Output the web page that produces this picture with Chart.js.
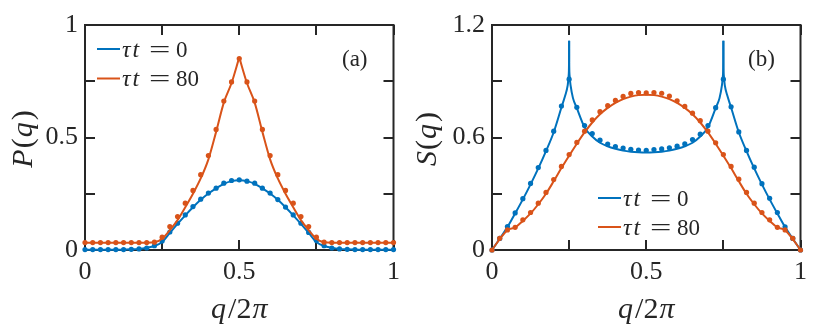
<!DOCTYPE html>
<html>
<head>
<meta charset="utf-8">
<script src="https://cdn.jsdelivr.net/npm/chart.js@4.4.1/dist/chart.umd.min.js"></script>
<style>
  html, body { margin: 0; padding: 0; background: #fff; }
  #wrap { position: relative; width: 814px; height: 336px; }
  .panel { position: absolute; top: 0; width: 407px; height: 336px; }
</style>
</head>
<body>
<div id="wrap">
  <div class="panel" style="left:0"><canvas id="chartP" width="407" height="336"></canvas></div>
  <div class="panel" style="left:407px"><canvas id="chartS" width="407" height="336"></canvas></div>
</div>
<script>
// q/2pi of the finite-size points (dots)
const qDots = [0, 0.025, 0.05, 0.075, 0.1, 0.125, 0.15, 0.175, 0.2, 0.225, 0.25, 0.275, 0.3, 0.325, 0.35, 0.375, 0.4, 0.425, 0.45, 0.475, 0.5,
               0.525, 0.55, 0.575, 0.6, 0.625, 0.65, 0.675, 0.7, 0.725, 0.75, 0.775, 0.8, 0.825, 0.85, 0.875, 0.9, 0.925, 0.95, 0.975, 1];

// (a) P(q)
const pDots0  = [0.002, 0.002, 0.002, 0.002, 0.002, 0.002, 0.003, 0.005, 0.009, 0.019, 0.04, 0.08, 0.119, 0.156, 0.193, 0.226, 0.253, 0.275, 0.297, 0.309, 0.312,
                 0.306, 0.297, 0.275, 0.253, 0.224, 0.191, 0.156, 0.119, 0.078, 0.042, 0.019, 0.009, 0.005, 0.003, 0.002, 0.002, 0.002, 0.002, 0.002, 0.002];
const pLine0  = [0.001, 0.001, 0.001, 0.001, 0.001, 0.002, 0.003, 0.005, 0.01, 0.018, 0.036, 0.076, 0.116, 0.154, 0.19, 0.223, 0.251, 0.274, 0.294, 0.306, 0.31,
                 0.306, 0.294, 0.274, 0.251, 0.223, 0.19, 0.154, 0.116, 0.076, 0.036, 0.018, 0.01, 0.005, 0.003, 0.002, 0.001, 0.001, 0.001, 0.001, 0.001];
const pDots80 = [0.033, 0.033, 0.033, 0.033, 0.033, 0.033, 0.033, 0.033, 0.033, 0.035, 0.057, 0.104, 0.149, 0.208, 0.265, 0.335, 0.42, 0.536, 0.662, 0.747, 0.851,
                 0.747, 0.662, 0.536, 0.42, 0.335, 0.265, 0.208, 0.149, 0.104, 0.057, 0.035, 0.033, 0.033, 0.033, 0.033, 0.033, 0.033, 0.033, 0.033, 0.033];
const pLine80 = [0.032, 0.032, 0.032, 0.032, 0.032, 0.032, 0.032, 0.032, 0.032, 0.034, 0.05, 0.088, 0.133, 0.19, 0.25, 0.318, 0.403, 0.525, 0.655, 0.742, 0.856,
                 0.742, 0.655, 0.525, 0.403, 0.318, 0.25, 0.19, 0.133, 0.088, 0.05, 0.034, 0.032, 0.032, 0.032, 0.032, 0.032, 0.032, 0.032, 0.032, 0.032];

// (b) S(q)
const sDots0  = [0, 0.062, 0.125, 0.198, 0.274, 0.355, 0.44, 0.531, 0.634, 0.768, 0.911, 0.761, 0.664, 0.621, 0.586, 0.565, 0.552, 0.544, 0.537, 0.533, 0.532,
                 0.536, 0.539, 0.545, 0.554, 0.566, 0.589, 0.618, 0.664, 0.759, 0.911, 0.764, 0.63, 0.531, 0.442, 0.354, 0.276, 0.2, 0.124, 0.062, 0];
const sDots80 = [0, 0.0625, 0.107, 0.121, 0.161, 0.2, 0.25, 0.307, 0.376, 0.446, 0.509, 0.574, 0.634, 0.694, 0.738, 0.77, 0.798, 0.819, 0.835, 0.84, 0.838,
                 0.84, 0.836, 0.821, 0.796, 0.766, 0.73, 0.69, 0.634, 0.572, 0.509, 0.446, 0.378, 0.307, 0.25, 0.2, 0.161, 0.121, 0.107, 0.0625, 0];
const sLine80 = [0, 0.058, 0.106, 0.12, 0.155, 0.195, 0.244, 0.3, 0.367, 0.437, 0.503, 0.567, 0.627, 0.68, 0.724, 0.758, 0.785, 0.805, 0.818, 0.826, 0.828,
                 0.826, 0.818, 0.805, 0.785, 0.758, 0.724, 0.68, 0.627, 0.567, 0.503, 0.437, 0.367, 0.3, 0.244, 0.195, 0.155, 0.12, 0.106, 0.058, 0];
// tau t = 0 line has sharp spikes at 1/4 and 3/4, so it is sampled finer there
const qLineS0 = [0, 0.025, 0.05, 0.075, 0.1, 0.125, 0.15, 0.175, 0.2, 0.225, 0.2375, 0.245, 0.2485, 0.2497, 0.25,
                 0.2503, 0.2515, 0.255, 0.2625, 0.275, 0.3, 0.325, 0.35, 0.375, 0.4, 0.425, 0.45, 0.475, 0.5,
                 0.525, 0.55, 0.575, 0.6, 0.625, 0.65, 0.675, 0.7, 0.725, 0.7375, 0.745, 0.7485, 0.7497, 0.75,
                 0.7503, 0.7515, 0.755, 0.7625, 0.775, 0.8, 0.825, 0.85, 0.875, 0.9, 0.925, 0.95, 0.975, 1];
const sLine0  = [0, 0.06, 0.122, 0.195, 0.27, 0.35, 0.435, 0.527, 0.628, 0.76, 0.825, 0.875, 0.93, 1.0, 1.116,
                 1.0, 0.93, 0.875, 0.81, 0.757, 0.655, 0.605, 0.572, 0.553, 0.54, 0.53, 0.524, 0.521, 0.52,
                 0.521, 0.524, 0.53, 0.54, 0.553, 0.572, 0.605, 0.655, 0.757, 0.81, 0.875, 0.93, 1.0, 1.116,
                 1.0, 0.93, 0.875, 0.825, 0.76, 0.628, 0.527, 0.435, 0.35, 0.27, 0.195, 0.122, 0.06, 0];

const tauValues = ['0', '80'];
const xTicks = [0, 0.25, 0.5, 0.75, 1];
const xLabelled = [0, 0.5, 1];
const pTicks = [0, 0.25, 0.5, 0.75, 1];
const pLabelled = [0, 0.5, 1];
const sTicks = [0, 0.3, 0.6, 0.9, 1.2];
const sLabelled = [0, 0.6, 1.2];

const BLUE = '#0072BD';
const ORANGE = '#D95319';
const AXIS = '#262626';
const SERIF = '"Liberation Serif", "Times New Roman", serif';
const TICK_LEN = 10;

function pts(xs, ys, lo = -Infinity, hi = Infinity) {
    const out = [];
    xs.forEach((x, i) => { if (x >= lo - 1e-9 && x <= hi + 1e-9) out.push({ x: x, y: ys[i] }); });
    return out;
}

function lineSet(data, color, order) {
    return { data, showLine: true, borderColor: color, borderWidth: 2, pointRadius: 0,
             cubicInterpolationMode: 'monotone', order, clip: false };
}

function dotSet(data, color, order) {
    return { data, showLine: false, pointRadius: 2.6, pointBackgroundColor: color,
             pointBorderWidth: 0, borderColor: color, order, clip: false };
}

function scaleCfg(min, max, marks, labelled, axis) {
    return {
        type: 'linear', min, max,
        grid: { display: false, drawTicks: false },
        border: { display: false },
        afterBuildTicks: s => { s.ticks = marks.map(v => ({ value: v })); },
        afterFit: s => { if (axis === 'x') s.height = 86; else s.width = 85; },
        ticks: {
            autoSkip: false, maxRotation: 0, minRotation: 0,
            padding: axis === 'x' ? 7 : 7,
            color: AXIS,
            font: { family: SERIF, size: 26 },
            callback: v => labelled.some(l => Math.abs(l - v) < 1e-9) ? String(v) : ''
        }
    };
}

function fnt(italic, size) {
    return (italic ? 'italic ' : '') + size + 'px ' + SERIF;
}

// draw text made of upright / italic pieces
function drawPieces(ctx, pieces, x, y, size) {
    const widths = pieces.map(p => { ctx.font = fnt(p[1], size); return ctx.measureText(p[0]).width; });
    const total = widths.reduce((s, w, i) => s + w + (pieces[i][2] || 0), 0);
    let cx = x - total / 2;
    ctx.textAlign = 'left';
    ctx.textBaseline = 'alphabetic';
    pieces.forEach((p, i) => {
        cx += p[2] || 0;
        ctx.font = fnt(p[1], size);
        ctx.fillText(p[0], cx, y);
        cx += widths[i];
    });
}

function framePlugin(xMarks, yMarks) {
    return {
        id: 'frame',
        beforeDatasetsDraw(chart) {
            const { ctx, chartArea: a, scales: { x, y } } = chart;
            ctx.save();
            ctx.strokeStyle = AXIS;
            ctx.lineWidth = 2;
            ctx.beginPath();
            xMarks.forEach(v => {
                const px = Math.round(x.getPixelForValue(v));
                ctx.moveTo(px, a.bottom); ctx.lineTo(px, a.bottom - TICK_LEN);
                ctx.moveTo(px, a.top); ctx.lineTo(px, a.top + TICK_LEN);
            });
            yMarks.forEach(v => {
                const py = Math.round(y.getPixelForValue(v));
                ctx.moveTo(a.left, py); ctx.lineTo(a.left + TICK_LEN, py);
                ctx.moveTo(a.right, py); ctx.lineTo(a.right - TICK_LEN, py);
            });
            ctx.stroke();
            ctx.strokeRect(a.left, a.top, a.right - a.left, a.bottom - a.top);
            ctx.restore();
        }
    };
}

function textPlugin(o) {
    return {
        id: 'mathText',
        afterDraw(chart) {
            const { ctx, chartArea: a } = chart;
            ctx.save();
            ctx.fillStyle = AXIS;

            // y title, rotated
            ctx.save();
            ctx.translate(o.yTitleX, 139);
            ctx.rotate(-Math.PI / 2);
            drawPieces(ctx, [[o.yName, true], ['(', false, 1], ['q', true, 1], [')', false, 2]], 0, 0, 30);
            ctx.restore();

            // x title
            drawPieces(ctx, [['q', true], ['/2', false, 2], ['π', true, 1]], (a.left + a.right) / 2, 318, 30);

            // legend
            o.legendY.forEach((ly, i) => {
                ctx.strokeStyle = i === 0 ? BLUE : ORANGE;
                ctx.lineWidth = 2;
                ctx.beginPath();
                ctx.moveTo(o.legendX, ly);
                ctx.lineTo(o.legendX + 23, ly);
                ctx.stroke();
                const tx = o.legendX + 25, by = ly + 7.5;
                ctx.textAlign = 'left';
                ctx.textBaseline = 'alphabetic';
                ctx.font = fnt(true, 24);
                ctx.fillText('τ', tx, by);
                ctx.fillText('t', tx + 10.5, by);
                ctx.font = fnt(false, 23);
                ctx.save();
                ctx.translate(tx + 27, by);
                ctx.scale(1.65, 1);
                ctx.fillText('=', 0, 0);
                ctx.restore();
                ctx.fillText(tauValues[i], tx + 54, by);
            });

            // panel tag
            ctx.font = fnt(false, 23);
            ctx.textAlign = 'left';
            ctx.fillText(o.tag, o.tagX, 66);
            ctx.restore();
        }
    };
}

function makeChart(id, cfg) {
    return new Chart(document.getElementById(id), {
        type: 'scatter',
        data: { datasets: cfg.datasets },
        options: {
            responsive: false,
            animation: false,
            events: [],
            layout: { padding: { top: 25, right: 8, left: 0, bottom: 0 } },
            scales: {
                x: scaleCfg(0, 1, xTicks, xLabelled, 'x'),
                y: scaleCfg(cfg.min, cfg.max, cfg.ticks, cfg.labelled, 'y')
            },
            plugins: { legend: { display: false }, tooltip: { enabled: false } }
        },
        plugins: [framePlugin(xTicks, cfg.ticks), textPlugin(cfg.text)]
    });
}

// (a)
makeChart('chartP', {
    min: 0, max: 1, ticks: pTicks, labelled: pLabelled,
    datasets: [
        dotSet(pts(qDots, pDots80), ORANGE, 0),
        lineSet(pts(qDots, pLine80, 0, 0.5), ORANGE, 1),
        lineSet(pts(qDots, pLine80, 0.5, 1), ORANGE, 1),
        dotSet(pts(qDots, pDots0), BLUE, 2),
        lineSet(pts(qDots, pLine0), BLUE, 3)
    ],
    text: { yName: 'P', yTitleX: 31.5, legendX: 97, legendY: [49, 78.5], tag: '(a)', tagX: 342 }
});

// (b)
makeChart('chartS', {
    min: 0, max: 1.2, ticks: sTicks, labelled: sLabelled,
    datasets: [
        dotSet(pts(qDots, sDots80), ORANGE, 0),
        lineSet(pts(qDots, sLine80), ORANGE, 1),
        dotSet(pts(qDots, sDots0), BLUE, 2),
        lineSet(pts(qLineS0, sLine0, 0, 0.25), BLUE, 3),
        lineSet(pts(qLineS0, sLine0, 0.25, 0.75), BLUE, 3),
        lineSet(pts(qLineS0, sLine0, 0.75, 1), BLUE, 3)
    ],
    text: { yName: 'S', yTitleX: 28.5, legendX: 191, legendY: [198, 227], tag: '(b)', tagX: 341 }
});
</script>
</body>
</html>
